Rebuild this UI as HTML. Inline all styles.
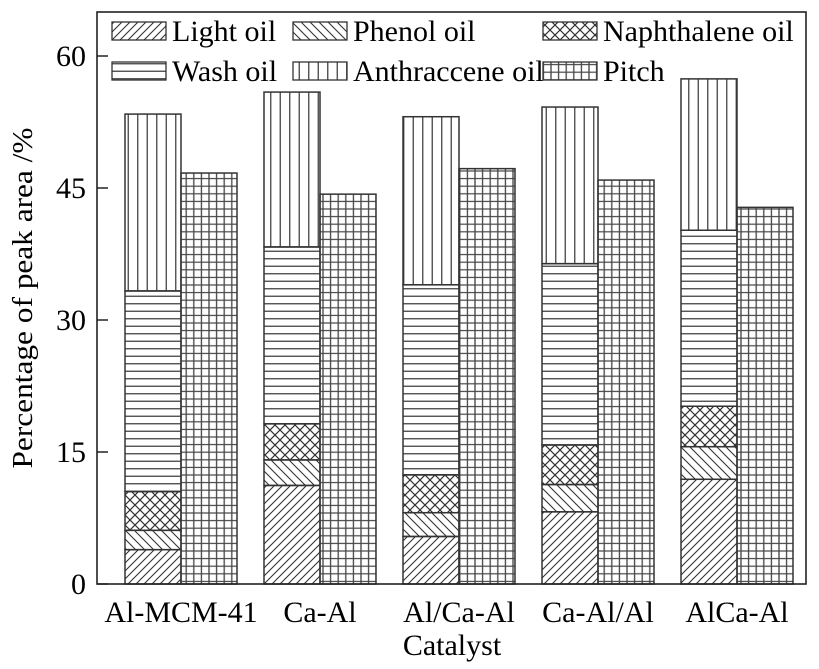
<!DOCTYPE html>
<html><head><meta charset="utf-8"><style>
body{margin:0;background:#fff}
svg{display:block;font-family:"Liberation Serif",serif}
</style></head><body>
<svg id="chart" width="819" height="669">
<defs>
<pattern id="p-light" width="8" height="8" patternUnits="userSpaceOnUse"><path d="M-2,10 L10,-2 M-2,2 L2,-2 M6,10 L10,6" stroke="#333" stroke-width="1.1"/></pattern>
<pattern id="p-phenol" width="9" height="9" patternUnits="userSpaceOnUse"><path d="M-2,-2 L11,11 M-2,7 L2,11 M7,-2 L11,2" stroke="#333" stroke-width="1.1"/></pattern>
<pattern id="p-naph" width="10" height="10" patternUnits="userSpaceOnUse"><path d="M-2,-2 L12,12 M-2,8 L2,12 M8,-2 L12,2 M-2,12 L12,-2 M-2,2 L2,-2 M8,12 L12,8" stroke="#333" stroke-width="1.2"/></pattern>
<pattern id="p-wash" width="8" height="7.5" patternUnits="userSpaceOnUse"><path d="M0,3.75 L8,3.75" stroke="#444" stroke-width="1.3"/></pattern>
<pattern id="p-anth" width="9.5" height="8" patternUnits="userSpaceOnUse"><path d="M4.75,0 L4.75,8" stroke="#444" stroke-width="1.3"/></pattern>
<pattern id="p-pitch" width="7.6" height="7.6" patternUnits="userSpaceOnUse"><path d="M0,3.8 L7.6,3.8 M3.8,0 L3.8,7.6" stroke="#444" stroke-width="1.3"/></pattern>
</defs>
<g id="bars"></g>
<g id="axes"></g>
<g id="legend"></g>
<text x="32" y="298" font-size="28" text-anchor="middle" textLength="341" lengthAdjust="spacingAndGlyphs" transform="rotate(-90 32 298)">Percentage of peak area /%</text>
<text x="452" y="655" font-size="30" text-anchor="middle">Catalyst</text>
</svg>
<script>
const categories=["Al-MCM-41","Ca-Al","Al/Ca-Al","Ca-Al/Al","AlCa-Al"];
const seriesNames=["Light oil","Phenol oil","Naphthalene oil","Wash oil","Anthraccene oil"];
const lightOil=[3.9,11.2,5.4,8.2,11.9];
const phenolOil=[2.2,2.9,2.7,3.1,3.7];
const naphOil=[4.4,4.1,4.3,4.5,4.6];
const washOil=[22.8,20.1,21.6,20.6,20.0];
const anthOil=[20.1,17.6,19.1,17.8,17.2];
const pitch=[46.7,44.3,47.2,45.9,42.8];
const yTicks=[0,15,30,45,60];
const NS="http://www.w3.org/2000/svg";
const X0=97,X1=806,Y0=584,Y1=12;
const y=v=>Y0-v*8.8;
const gx=i=>181+i*139;
const BW=56;
function mk(t,a,p){const e=document.createElementNS(NS,t);for(const k in a)e.setAttribute(k,a[k]);p.appendChild(e);return e;}
const bars=document.getElementById('bars');
const pats=["p-light","p-phenol","p-naph","p-wash","p-anth"];
const stacks=[lightOil,phenolOil,naphOil,washOil,anthOil];
categories.forEach((c,i)=>{
  let base=0;
  stacks.forEach((s,k)=>{
    const v=s[i];
    const r=mk('rect',{x:gx(i)-BW,y:y(base+v),width:BW,height:v*8.8,fill:'url(#'+pats[k]+')',stroke:'#333','stroke-width':1.5},bars);
    
    
    base+=v;
  });
  const p=mk('rect',{x:gx(i),y:y(pitch[i]),width:BW,height:pitch[i]*8.8,fill:'url(#p-pitch)',stroke:'#333','stroke-width':1.5},bars);
  
  
  const t=mk('text',{x:gx(i),y:622,'font-size':30,'text-anchor':'middle'},bars);
  t.textContent=c;
  
  
});
const axes=document.getElementById('axes');
const fr=mk('rect',{x:X0,y:Y1,width:X1-X0,height:Y0-Y1,fill:'none',stroke:'#222','stroke-width':1.6},axes);


yTicks.forEach(v=>{
  const l=mk('line',{x1:X0,x2:X0+11,y1:y(v),y2:y(v),stroke:'#222','stroke-width':1.5},axes);
  
  
  const t=mk('text',{x:86,y:y(v)+10,'font-size':30,'text-anchor':'end'},axes);
  t.textContent=v;
  
  
});
const lg=document.getElementById('legend');
const legendItems=[["Light oil","p-light",112,22],["Phenol oil","p-phenol",293,22],["Naphthalene oil","p-naph",543,22],["Wash oil","p-wash",112,62],["Anthraccene oil","p-anth",293,62],["Pitch","p-pitch",543,62]];
legendItems.forEach(it=>{
  const g=mk('g',{},lg);
  
  
  mk('rect',{x:it[2],y:it[3],width:54,height:18,fill:'url(#'+it[1]+')',stroke:'#333','stroke-width':1.3},g);
  const t=mk('text',{x:it[2]+60,y:it[3]+19,'font-size':30},g);
  t.textContent=it[0];
});
</script>
</body></html>
